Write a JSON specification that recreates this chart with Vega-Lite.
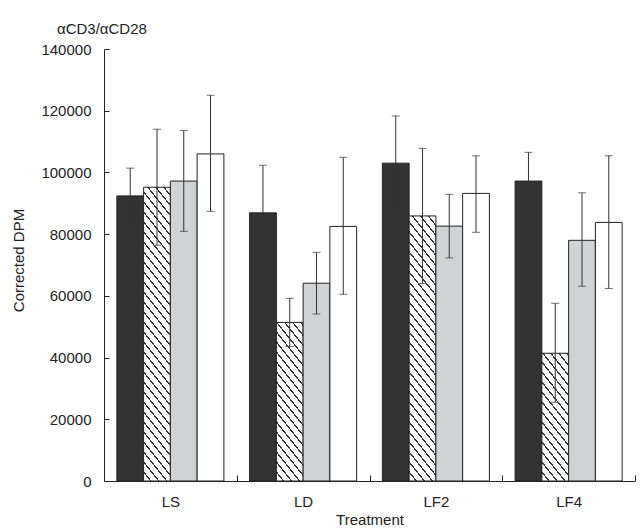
{
  "$schema": "https://vega.github.io/schema/vega-lite/v6.json",
  "autosize": "none",
  "width": 531,
  "height": 432,
  "padding": {"left": 104, "top": 49, "right": 5, "bottom": 51},
  "background": "#ffffff",
  "params": [
    {"name": "hatchStops", "value": [
      {"offset":0,"color":"#fff"},{"offset":0.02,"color":"#fff"},{"offset":0.02,"color":"#333"},{"offset":0.025,"color":"#333"},
      {"offset":0.025,"color":"#fff"},{"offset":0.045,"color":"#fff"},{"offset":0.045,"color":"#333"},{"offset":0.05,"color":"#333"},
      {"offset":0.05,"color":"#fff"},{"offset":0.07,"color":"#fff"},{"offset":0.07,"color":"#333"},{"offset":0.075,"color":"#333"},
      {"offset":0.075,"color":"#fff"},{"offset":0.095,"color":"#fff"},{"offset":0.095,"color":"#333"},{"offset":0.1,"color":"#333"},
      {"offset":0.1,"color":"#fff"},{"offset":0.12,"color":"#fff"},{"offset":0.12,"color":"#333"},{"offset":0.125,"color":"#333"},
      {"offset":0.125,"color":"#fff"},{"offset":0.145,"color":"#fff"},{"offset":0.145,"color":"#333"},{"offset":0.15,"color":"#333"},
      {"offset":0.15,"color":"#fff"},{"offset":0.17,"color":"#fff"},{"offset":0.17,"color":"#333"},{"offset":0.175,"color":"#333"},
      {"offset":0.175,"color":"#fff"},{"offset":0.195,"color":"#fff"},{"offset":0.195,"color":"#333"},{"offset":0.2,"color":"#333"},
      {"offset":0.2,"color":"#fff"},{"offset":0.22,"color":"#fff"},{"offset":0.22,"color":"#333"},{"offset":0.225,"color":"#333"},
      {"offset":0.225,"color":"#fff"},{"offset":0.245,"color":"#fff"},{"offset":0.245,"color":"#333"},{"offset":0.25,"color":"#333"},
      {"offset":0.25,"color":"#fff"},{"offset":0.27,"color":"#fff"},{"offset":0.27,"color":"#333"},{"offset":0.275,"color":"#333"},
      {"offset":0.275,"color":"#fff"},{"offset":0.295,"color":"#fff"},{"offset":0.295,"color":"#333"},{"offset":0.3,"color":"#333"},
      {"offset":0.3,"color":"#fff"},{"offset":0.32,"color":"#fff"},{"offset":0.32,"color":"#333"},{"offset":0.325,"color":"#333"},
      {"offset":0.325,"color":"#fff"},{"offset":0.345,"color":"#fff"},{"offset":0.345,"color":"#333"},{"offset":0.35,"color":"#333"},
      {"offset":0.35,"color":"#fff"},{"offset":0.37,"color":"#fff"},{"offset":0.37,"color":"#333"},{"offset":0.375,"color":"#333"},
      {"offset":0.375,"color":"#fff"},{"offset":0.395,"color":"#fff"},{"offset":0.395,"color":"#333"},{"offset":0.4,"color":"#333"},
      {"offset":0.4,"color":"#fff"},{"offset":0.42,"color":"#fff"},{"offset":0.42,"color":"#333"},{"offset":0.425,"color":"#333"},
      {"offset":0.425,"color":"#fff"},{"offset":0.445,"color":"#fff"},{"offset":0.445,"color":"#333"},{"offset":0.45,"color":"#333"},
      {"offset":0.45,"color":"#fff"},{"offset":0.47,"color":"#fff"},{"offset":0.47,"color":"#333"},{"offset":0.475,"color":"#333"},
      {"offset":0.475,"color":"#fff"},{"offset":0.495,"color":"#fff"},{"offset":0.495,"color":"#333"},{"offset":0.5,"color":"#333"},
      {"offset":0.5,"color":"#fff"},{"offset":0.52,"color":"#fff"},{"offset":0.52,"color":"#333"},{"offset":0.525,"color":"#333"},
      {"offset":0.525,"color":"#fff"},{"offset":0.545,"color":"#fff"},{"offset":0.545,"color":"#333"},{"offset":0.55,"color":"#333"},
      {"offset":0.55,"color":"#fff"},{"offset":0.57,"color":"#fff"},{"offset":0.57,"color":"#333"},{"offset":0.575,"color":"#333"},
      {"offset":0.575,"color":"#fff"},{"offset":0.595,"color":"#fff"},{"offset":0.595,"color":"#333"},{"offset":0.6,"color":"#333"},
      {"offset":0.6,"color":"#fff"},{"offset":0.62,"color":"#fff"},{"offset":0.62,"color":"#333"},{"offset":0.625,"color":"#333"},
      {"offset":0.625,"color":"#fff"},{"offset":0.645,"color":"#fff"},{"offset":0.645,"color":"#333"},{"offset":0.65,"color":"#333"},
      {"offset":0.65,"color":"#fff"},{"offset":0.67,"color":"#fff"},{"offset":0.67,"color":"#333"},{"offset":0.675,"color":"#333"},
      {"offset":0.675,"color":"#fff"},{"offset":0.695,"color":"#fff"},{"offset":0.695,"color":"#333"},{"offset":0.7,"color":"#333"},
      {"offset":0.7,"color":"#fff"},{"offset":0.72,"color":"#fff"},{"offset":0.72,"color":"#333"},{"offset":0.725,"color":"#333"},
      {"offset":0.725,"color":"#fff"},{"offset":0.745,"color":"#fff"},{"offset":0.745,"color":"#333"},{"offset":0.75,"color":"#333"},
      {"offset":0.75,"color":"#fff"},{"offset":0.77,"color":"#fff"},{"offset":0.77,"color":"#333"},{"offset":0.775,"color":"#333"},
      {"offset":0.775,"color":"#fff"},{"offset":0.795,"color":"#fff"},{"offset":0.795,"color":"#333"},{"offset":0.8,"color":"#333"},
      {"offset":0.8,"color":"#fff"},{"offset":0.82,"color":"#fff"},{"offset":0.82,"color":"#333"},{"offset":0.825,"color":"#333"},
      {"offset":0.825,"color":"#fff"},{"offset":0.845,"color":"#fff"},{"offset":0.845,"color":"#333"},{"offset":0.85,"color":"#333"},
      {"offset":0.85,"color":"#fff"},{"offset":0.87,"color":"#fff"},{"offset":0.87,"color":"#333"},{"offset":0.875,"color":"#333"},
      {"offset":0.875,"color":"#fff"},{"offset":0.895,"color":"#fff"},{"offset":0.895,"color":"#333"},{"offset":0.9,"color":"#333"},
      {"offset":0.9,"color":"#fff"},{"offset":0.92,"color":"#fff"},{"offset":0.92,"color":"#333"},{"offset":0.925,"color":"#333"},
      {"offset":0.925,"color":"#fff"},{"offset":0.945,"color":"#fff"},{"offset":0.945,"color":"#333"},{"offset":0.95,"color":"#333"},
      {"offset":0.95,"color":"#fff"},{"offset":0.97,"color":"#fff"},{"offset":0.97,"color":"#333"},{"offset":0.975,"color":"#333"},
      {"offset":0.975,"color":"#fff"},{"offset":0.995,"color":"#fff"},{"offset":0.995,"color":"#333"},{"offset":1,"color":"#333"}
    ]}
  ],
  "title": {
    "text": "αCD3/αCD28",
    "anchor": "start",
    "frame": "group",
    "dx": -47,
    "offset": 5,
    "font": "Liberation Sans",
    "fontSize": 15,
    "fontWeight": "normal",
    "color": "#222222"
  },
  "data": {
    "values": [
      {"treatment": "LS", "series": "A", "mean": 92400, "lo": 83400, "hi": 101400},
      {"treatment": "LS", "series": "B", "mean": 95200, "lo": 76400, "hi": 114000},
      {"treatment": "LS", "series": "C", "mean": 97200, "lo": 80900, "hi": 113600},
      {"treatment": "LS", "series": "D", "mean": 106000, "lo": 87400, "hi": 125000},
      {"treatment": "LD", "series": "A", "mean": 86900, "lo": 71300, "hi": 102300},
      {"treatment": "LD", "series": "B", "mean": 51400, "lo": 43600, "hi": 59200},
      {"treatment": "LD", "series": "C", "mean": 64100, "lo": 54100, "hi": 74100},
      {"treatment": "LD", "series": "D", "mean": 82500, "lo": 60500, "hi": 104900},
      {"treatment": "LF2", "series": "A", "mean": 103000, "lo": 87700, "hi": 118300},
      {"treatment": "LF2", "series": "B", "mean": 85900, "lo": 64000, "hi": 107800},
      {"treatment": "LF2", "series": "C", "mean": 82600, "lo": 72300, "hi": 92900},
      {"treatment": "LF2", "series": "D", "mean": 93200, "lo": 80600, "hi": 105400},
      {"treatment": "LF4", "series": "A", "mean": 97200, "lo": 87900, "hi": 106500},
      {"treatment": "LF4", "series": "B", "mean": 41400, "lo": 25500, "hi": 57600},
      {"treatment": "LF4", "series": "C", "mean": 78000, "lo": 63100, "hi": 93400},
      {"treatment": "LF4", "series": "D", "mean": 83800, "lo": 62400, "hi": 105400}
    ]
  },
  "encoding": {
    "x": {
      "field": "treatment",
      "type": "nominal",
      "sort": ["LS", "LD", "LF2", "LF4"],
      "scale": {"paddingInner": 0, "paddingOuter": 0},
      "axis": {
        "title": "Treatment",
        "labelAngle": 0,
        "tickBand": "extent",
        "tickSize": -6,
        "labelPadding": 19,
        "titleY": 31,
        "titleBaseline": "top"
      }
    },
    "xOffset": {
      "field": "series",
      "type": "nominal",
      "sort": ["A", "B", "C", "D"],
      "scale": {"paddingInner": 0, "paddingOuter": 0.48}
    }
  },
  "layer": [
    {
      "mark": {"type": "bar", "stroke": "#222222", "strokeWidth": 1},
      "encoding": {
        "y": {
          "field": "mean",
          "type": "quantitative",
          "scale": {"domain": [0, 140000], "nice": false},
          "axis": {
            "title": "Corrected DPM",
            "values": [0,5000,10000,15000,20000,25000,30000,35000,40000,45000,50000,55000,60000,65000,70000,75000,80000,85000,90000,95000,100000,105000,110000,115000,120000,125000,130000,135000,140000],
            "labelExpr": "datum.value % 20000 === 0 ? format(datum.value, 'd') : ''",
            "tickSize": -5,
            "labelPadding": 18,
            "titleX": -86,
            "titleY": 211,
            "titleAngle": -90,
            "titleAlign": "center",
            "titleBaseline": "middle"
          }
        },
        "fill": {"value": {"expr": "datum.series === 'B' ? {gradient: 'linear', x1: 0, y1: 1, x2: 500*bandwidth('xOffset')/(1.5625*pow(bandwidth('xOffset'),2) + pow(scale('y',0)-scale('y',datum.mean),2)), y2: 1 - 400*(scale('y',0)-scale('y',datum.mean))/(1.5625*pow(bandwidth('xOffset'),2) + pow(scale('y',0)-scale('y',datum.mean),2)), stops: hatchStops} : datum.series === 'A' ? '#333333' : datum.series === 'C' ? '#d1d2d4' : '#ffffff'"}}
      }
    },
    {
      "mark": {"type": "rule", "color": "#333333", "strokeWidth": 1},
      "encoding": {
        "y": {"field": "lo", "type": "quantitative"},
        "y2": {"field": "hi"}
      }
    },
    {
      "mark": {"type": "tick", "color": "#333333", "size": 8, "thickness": 1, "orient": "horizontal"},
      "encoding": {"y": {"field": "lo", "type": "quantitative"}}
    },
    {
      "mark": {"type": "tick", "color": "#333333", "size": 8, "thickness": 1, "orient": "horizontal"},
      "encoding": {"y": {"field": "hi", "type": "quantitative"}}
    }
  ],
  "config": {
    "view": {"stroke": null},
    "font": "Liberation Sans",
    "axis": {
      "grid": false,
      "domainColor": "#222222",
      "tickColor": "#222222",
      "labelColor": "#222222",
      "titleColor": "#222222",
      "labelFont": "Liberation Sans",
      "titleFont": "Liberation Sans",
      "labelFontSize": 15,
      "titleFontSize": 15,
      "titleFontWeight": "normal",
      "domainWidth": 1,
      "tickWidth": 1
    }
  }
}
